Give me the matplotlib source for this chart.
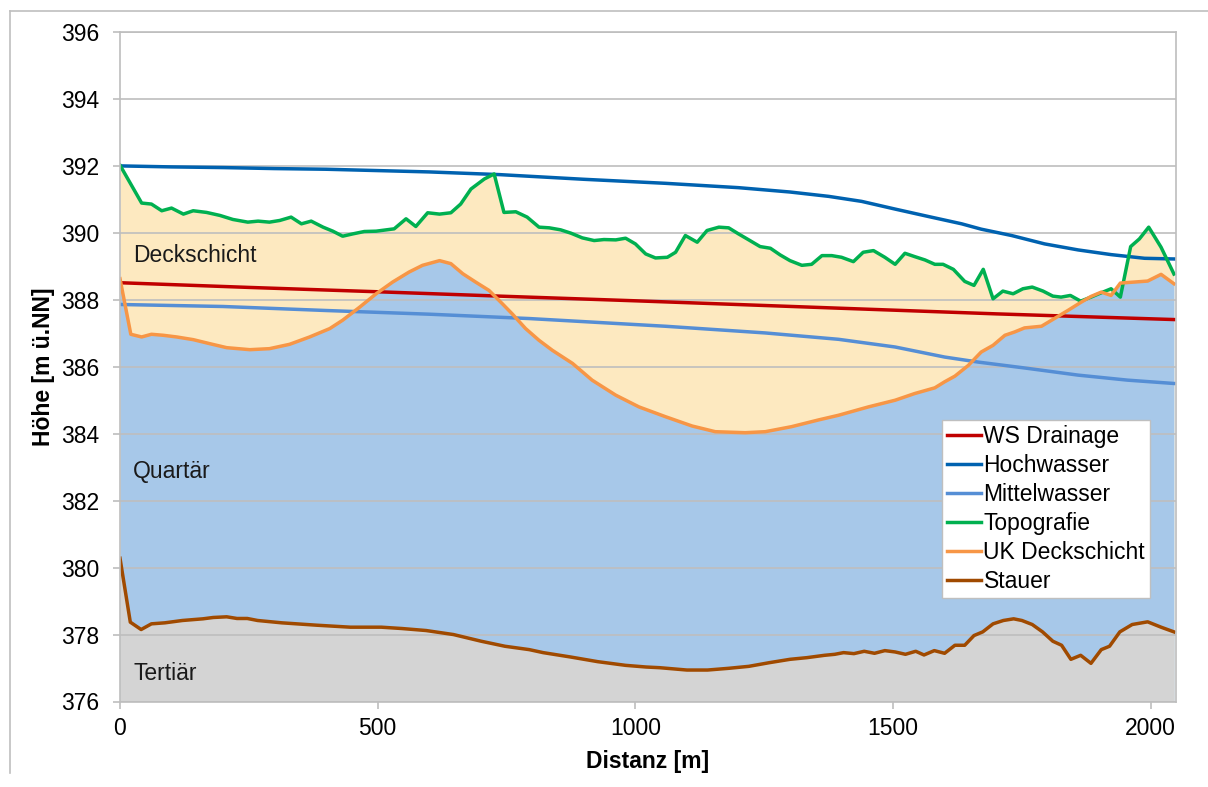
# Imports

import matplotlib
matplotlib.use('Agg')
import matplotlib.pyplot as plt
from matplotlib.lines import Line2D

# Package Parameter Alterations

plt.rcParams['font.family'] = ['Liberation Sans', 'DejaVu Sans']
plt.rcParams['font.size'] = 16.5

topo_x = [0, 42, 61, 81, 100, 123, 142, 168, 194, 219, 248, 268, 290, 310, 332, 352,
          371, 394, 413, 432, 452, 474, 497, 532, 555, 574, 597, 620, 642, 661, 681,
          707, 726, 745, 768, 790, 813, 833, 855, 875, 897, 920, 939, 962, 981, 1000,
          1020, 1039, 1062, 1078, 1097, 1120, 1139, 1162, 1181, 1200, 1220, 1242, 1262,
          1281, 1300, 1323, 1342, 1362, 1381, 1400, 1423, 1442, 1462, 1484, 1504, 1523,
          1542, 1562, 1581, 1597, 1617, 1639, 1657, 1675, 1694, 1713, 1733, 1752, 1770,
          1791, 1810, 1826, 1844, 1864, 1884, 1904, 1923, 1941, 1961, 1978, 1996, 2020,
          2045]
topo_y = [392.02, 390.89, 390.86, 390.66, 390.74, 390.56, 390.66, 390.61, 390.52, 390.40,
          390.32, 390.35, 390.32, 390.37, 390.47, 390.27, 390.35, 390.17, 390.05, 389.90,
          389.97, 390.04, 390.05, 390.12, 390.42, 390.19, 390.60, 390.56, 390.60, 390.86,
          391.31, 391.61, 391.76, 390.61, 390.63, 390.47, 390.17, 390.15, 390.09, 389.99,
          389.85, 389.77, 389.80, 389.79, 389.84, 389.67, 389.37, 389.25, 389.27, 389.42,
          389.92, 389.72, 390.07, 390.17, 390.15, 389.97, 389.79, 389.59, 389.54, 389.34,
          389.17, 389.03, 389.06, 389.32, 389.32, 389.27, 389.14, 389.42, 389.47, 389.27,
          389.06, 389.39, 389.29, 389.19, 389.06, 389.06, 388.91, 388.55, 388.43, 388.91,
          388.03, 388.26, 388.18, 388.33, 388.38, 388.26, 388.11, 388.08, 388.13, 387.96,
          388.08, 388.21, 388.33, 388.08, 389.59, 389.82, 390.17, 389.57, 388.77]

uk_x = [0, 21, 42, 61, 84, 110, 142, 174, 207, 252, 290, 329, 368, 407, 432, 465, 497,
        529, 561, 587, 620, 642, 665, 690, 716, 742, 761, 787, 813, 839, 878, 916, 962,
        1007, 1058, 1110, 1155, 1213, 1252, 1303, 1355, 1394, 1452, 1504, 1542, 1581,
        1600, 1620, 1646, 1671, 1694, 1717, 1736, 1755, 1788, 1813, 1839, 1865, 1884,
        1904, 1923, 1941, 1968, 1994, 2020, 2045]
uk_y = [388.63, 386.97, 386.89, 386.97, 386.94, 386.89, 386.81, 386.69, 386.57, 386.51,
        386.54, 386.67, 386.89, 387.14, 387.39, 387.78, 388.18, 388.53, 388.83, 389.03,
        389.17, 389.08, 388.78, 388.53, 388.28, 387.88, 387.58, 387.14, 386.79, 386.49,
        386.10, 385.60, 385.15, 384.80, 384.51, 384.23, 384.06, 384.03, 384.06, 384.21,
        384.41, 384.55, 384.80, 385.00, 385.20, 385.37, 385.55, 385.72, 386.04, 386.44,
        386.64, 386.94, 387.04, 387.16, 387.21, 387.44, 387.68, 387.93, 388.10, 388.23,
        388.13, 388.50, 388.53, 388.56, 388.76, 388.48]

stauer_x = [0, 20, 41, 61, 87, 121, 161, 181, 207, 227, 247, 267, 314, 381, 447, 507, 547,
            594, 647, 701, 747, 794, 821, 874, 927, 981, 1021, 1047, 1100, 1140, 1180, 1220,
            1260, 1300, 1333, 1367, 1387, 1404, 1424, 1444, 1464, 1484, 1504, 1524, 1544,
            1560, 1580, 1600, 1620, 1639, 1657, 1674, 1694, 1714, 1734, 1750, 1770, 1790,
            1810, 1827, 1845, 1864, 1884, 1904, 1920, 1940, 1964, 1994, 2020, 2045]
stauer_y = [380.28, 378.37, 378.15, 378.32, 378.35, 378.42, 378.47, 378.51, 378.53, 378.48,
            378.48, 378.42, 378.35, 378.28, 378.22, 378.22, 378.18, 378.12, 378.00, 377.80,
            377.65, 377.55, 377.46, 377.33, 377.19, 377.08, 377.03, 377.01, 376.94, 376.94,
            376.99, 377.05, 377.16, 377.26, 377.31, 377.38, 377.41, 377.46, 377.43, 377.50,
            377.44, 377.52, 377.48, 377.41, 377.50, 377.39, 377.52, 377.44, 377.68, 377.68,
            377.97, 378.08, 378.32, 378.42, 378.47, 378.42, 378.30, 378.08, 377.80, 377.68,
            377.26, 377.38, 377.14, 377.55, 377.65, 378.08, 378.30, 378.38, 378.22, 378.08]

hw_x = [0, 100, 200, 300, 400, 500, 600, 736, 900, 1058, 1200, 1300, 1375, 1439, 1504,
        1568, 1633, 1671, 1730, 1794, 1859, 1923, 1988, 2045]
hw_y = [392.00, 391.97, 391.95, 391.92, 391.90, 391.86, 391.82, 391.74, 391.60, 391.48,
        391.35, 391.22, 391.09, 390.94, 390.71, 390.49, 390.27, 390.11, 389.92, 389.67,
        389.49, 389.35, 389.24, 389.22]

ws_x = [0, 250, 500, 736, 1000, 1394, 1700, 2045]
ws_y = [388.51, 388.37, 388.24, 388.11, 387.97, 387.75, 387.58, 387.41]

mw_x = [0, 200, 400, 600, 794, 1058, 1252, 1394, 1504, 1600, 1665, 1762, 1859, 1955, 2045]
mw_y = [387.86, 387.80, 387.68, 387.57, 387.44, 387.21, 387.01, 386.82, 386.59, 386.29,
        386.14, 385.95, 385.75, 385.60, 385.50]

layer_names = ['Deckschicht', 'Quartär', 'Tertiär']
layer_pos = [(25, 389.31), (25, 382.87), (27, 376.83)]

# Colors

beige = '#FDE9C0'
light_blue = '#A7C8E9'
grey_fill = '#D4D4D4'
grid_color = '#BEBEBE'
red = '#C00000'
dark_blue = '#0062B0'
mid_blue = '#558ED5'
green = '#00B050'
orange = '#F79646'
brown = '#A04A00'

# Plot

fig = plt.figure(figsize=(12.08, 7.87), dpi=100)
ax = fig.add_axes([120 / 1208, 1 - 701.5 / 787, 1055.5 / 1208, 669.5 / 787])

y_base = 376
ax.fill_between(topo_x, y_base, topo_y, color=beige, linewidth=0)
ax.fill_between(uk_x, y_base, uk_y, color=light_blue, linewidth=0)
ax.fill_between(stauer_x, y_base, stauer_y, color=grey_fill, linewidth=0)

lw = 2.5
ax.plot(ws_x, ws_y, color=red, lw=lw, label='WS Drainage')
ax.plot(hw_x, hw_y, color=dark_blue, lw=lw, label='Hochwasser')
ax.plot(mw_x, mw_y, color=mid_blue, lw=lw, label='Mittelwasser')
ax.plot(topo_x, topo_y, color=green, lw=lw, label='Topografie')
ax.plot(uk_x, uk_y, color=orange, lw=lw, label='UK Deckschicht')
ax.plot(stauer_x, stauer_y, color=brown, lw=lw, label='Stauer')

for name, (tx, ty) in zip(layer_names, layer_pos):
    ax.text(tx, ty, name, ha='left', va='center', color='#1A1A1A')

ax.set_xlim(0, 2048)
ax.set_ylim(376, 396)
ax.set_xticks([0, 500, 1000, 1500, 2000])
ax.set_yticks(range(376, 397, 2))
ax.grid(axis='y', color=grid_color, lw=1.2)
for side in ['left', 'right', 'top', 'bottom']:
    ax.spines[side].set_color(grid_color)
    ax.spines[side].set_linewidth(1.2)
ax.tick_params(axis='both', direction='out', length=5, width=1.2, color=grid_color)
ax.tick_params(axis='y', pad=10)
ax.tick_params(axis='x', pad=6)

ax.set_xlabel('Distanz [m]', fontweight='bold')
ax.set_ylabel('Höhe [m ü.NN]', fontweight='bold')
ax.xaxis.set_label_coords(0.5, -0.072)
ax.yaxis.set_label_coords(-0.062, 0.5)

leg = ax.legend(loc='upper left', bbox_to_anchor=(0.779, 0.4205), borderaxespad=0,
                fancybox=False, framealpha=1, edgecolor='#BFBFBF',
                handlelength=1.5, handletextpad=0.1, labelspacing=0.27,
                borderpad=0.2)
leg.get_frame().set_linewidth(1.0)

# Outer chart frame
fig.add_artist(Line2D([9.5 / 1208, 9.5 / 1208], [1 - 11 / 787, 1 - 773 / 787],
                      transform=fig.transFigure, color='#BFBFBF', lw=1.2))
fig.add_artist(Line2D([9.5 / 1208, 1.0], [1 - 11 / 787, 1 - 11 / 787],
                      transform=fig.transFigure, color='#BFBFBF', lw=1.2))

fig.savefig('out.png', dpi=100)
